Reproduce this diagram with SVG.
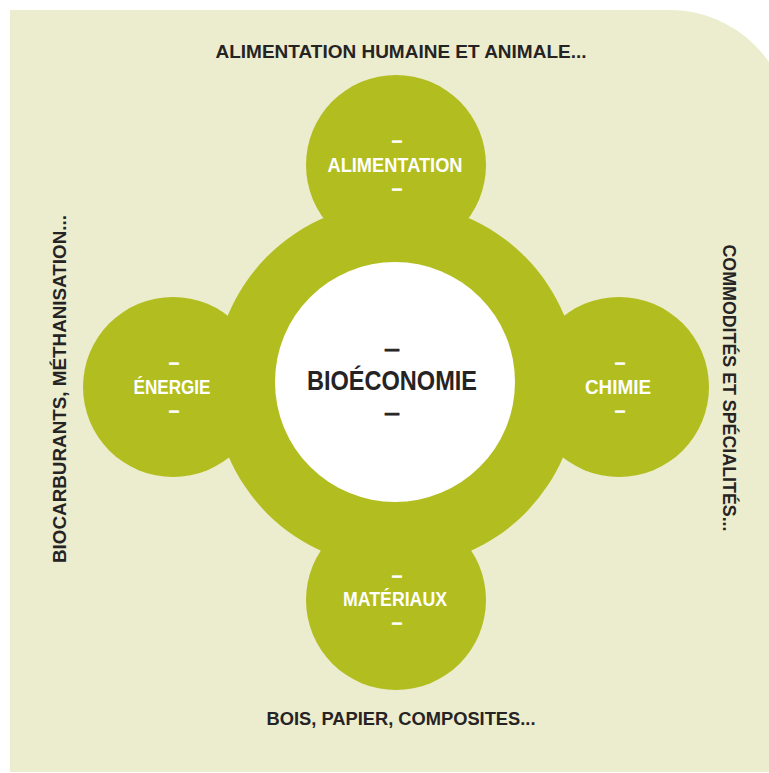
<svg xmlns="http://www.w3.org/2000/svg" width="769" height="773" viewBox="0 0 769 773">
<style>
.g{fill:#B2BD1F}
.w{fill:#FFFFFF}
.t{font-family:"Liberation Sans",Arial,sans-serif;font-weight:bold;text-anchor:middle}
.lab{font-size:20px;fill:#FFFFFF}
.d{font-size:14px;fill:#FFFFFF;stroke:#FFFFFF;stroke-width:0.9}
.dc{font-size:18px;fill:#262324;stroke:#262324;stroke-width:1}
.out{font-size:19px;fill:#262324}
.ctr{font-size:28px;fill:#262324}
</style>
<rect width="769" height="773" fill="#FFFFFF"/>
<path d="M10,10 H670 A120,120 0 0 1 790,130 V772 H10 Z" fill="#ECEDCE"/>
<g id="connectors"/>
<g id="ring">
<circle class="g" cx="396" cy="385" r="182"/>
</g>
<g id="alimentation">
<circle class="g" cx="396" cy="165" r="90"/>
<text class="t d" x="397" y="146" textLength="10" lengthAdjust="spacingAndGlyphs">–</text>
<text class="t lab" x="395" y="172" textLength="135" lengthAdjust="spacingAndGlyphs">ALIMENTATION</text>
<text class="t d" x="397" y="194" textLength="10" lengthAdjust="spacingAndGlyphs">–</text>
</g>
<g id="energie">
<circle class="g" cx="173" cy="387" r="90"/>
<text class="t d" x="174" y="368" textLength="10" lengthAdjust="spacingAndGlyphs">–</text>
<text class="t lab" x="172" y="394" textLength="77" lengthAdjust="spacingAndGlyphs">ÉNERGIE</text>
<text class="t d" x="174" y="416" textLength="10" lengthAdjust="spacingAndGlyphs">–</text>
</g>
<g id="chimie">
<circle class="g" cx="619" cy="387" r="90"/>
<text class="t d" x="620" y="368" textLength="10" lengthAdjust="spacingAndGlyphs">–</text>
<text class="t lab" x="618" y="394" textLength="66" lengthAdjust="spacingAndGlyphs">CHIMIE</text>
<text class="t d" x="620" y="416" textLength="10" lengthAdjust="spacingAndGlyphs">–</text>
</g>
<g id="materiaux">
<circle class="g" cx="396" cy="600" r="90"/>
<text class="t d" x="397" y="581" textLength="10" lengthAdjust="spacingAndGlyphs">–</text>
<text class="t lab" x="395" y="606" textLength="104" lengthAdjust="spacingAndGlyphs">MATÉRIAUX</text>
<text class="t d" x="397" y="628" textLength="10" lengthAdjust="spacingAndGlyphs">–</text>
</g>
<g id="bioeconomie">
<circle class="w" cx="395" cy="382" r="120"/>
<text class="t dc" x="392" y="355" textLength="15" lengthAdjust="spacingAndGlyphs">–</text>
<text class="t ctr" x="392" y="390" textLength="170" lengthAdjust="spacingAndGlyphs">BIOÉCONOMIE</text>
<text class="t dc" x="392" y="419" textLength="15" lengthAdjust="spacingAndGlyphs">–</text>
</g>
<g id="outer-labels">
<text class="t out" x="401" y="58" textLength="371" lengthAdjust="spacingAndGlyphs">ALIMENTATION HUMAINE ET ANIMALE...</text>
<text class="t out" x="401" y="725" textLength="269" lengthAdjust="spacingAndGlyphs">BOIS, PAPIER, COMPOSITES...</text>
<text class="t out" transform="translate(66,389) rotate(-90)" x="0" y="0" textLength="348" lengthAdjust="spacingAndGlyphs">BIOCARBURANTS, MÉTHANISATION...</text>
<text class="t out" transform="translate(723,388) rotate(90)" x="0" y="0" textLength="287" lengthAdjust="spacingAndGlyphs">COMMODITÉS ET SPÉCIALITÉS...</text>
</g>
</svg>
